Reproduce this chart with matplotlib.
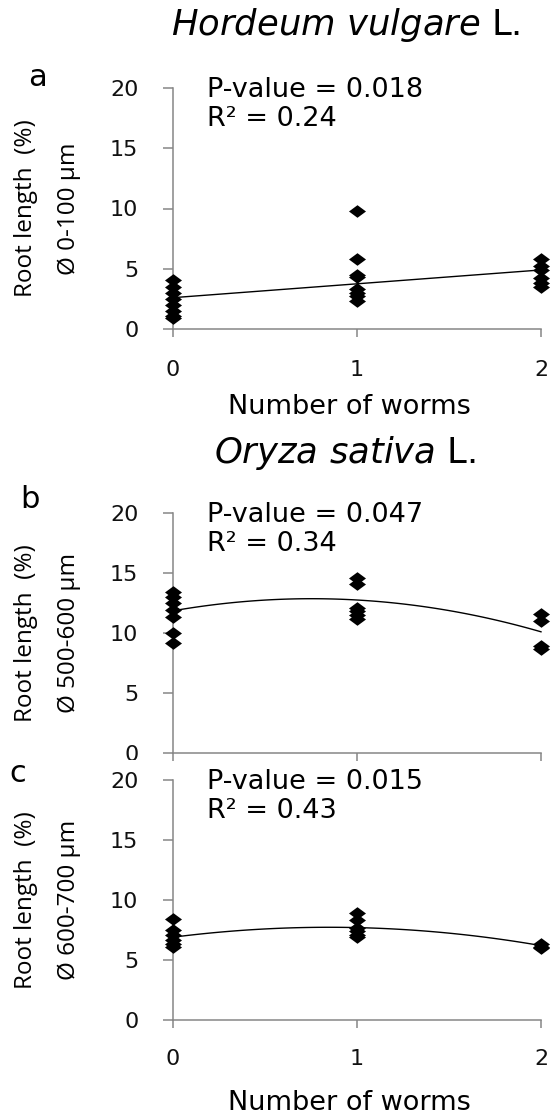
import numpy as np
import matplotlib
matplotlib.use("Agg")
import matplotlib.pyplot as plt
from matplotlib.path import Path
from matplotlib.patches import Rectangle

# ---------------- data ----------------
x_a0 = [4.1, 3.5, 3.0, 2.5, 2.0, 1.5, 1.1, 0.9]
x_a1 = [9.8, 5.8, 4.5, 4.3, 3.3, 3.0, 2.7, 2.3]
x_a2 = [5.8, 5.2, 4.9, 4.2, 3.8, 3.5]

x_b0 = [13.4, 13.0, 12.5, 11.9, 11.3, 10.0, 9.2]
x_b1 = [14.6, 14.1, 12.1, 11.8, 11.5, 11.2]
x_b2 = [11.6, 11.0, 8.9, 8.7]

x_c0 = [8.4, 7.5, 7.1, 6.7, 6.3, 6.1]
x_c1 = [8.9, 8.3, 7.7, 7.4, 7.1, 6.9]
x_c2 = [6.3, 6.1, 6.0]

# trend-line coefficients (highest power first)
trend_a = [1.15, 2.6]
trend_b = [-1.775, 2.675, 11.85]
trend_c = [-1.15, 1.95, 6.9]

worms = [0, 1, 2]
yticks = [0, 5, 10, 15, 20]
xticks = [0, 1, 2]

stats_a = ("P-value = 0.018", "R\u00b2 = 0.24")
stats_b = ("P-value = 0.047", "R\u00b2 = 0.34")
stats_c = ("P-value = 0.015", "R\u00b2 = 0.43")

ylab_a = ("Root length  (%)", "\u00d8 0-100 \u00b5m")
ylab_b = ("Root length  (%)", "\u00d8 500-600 \u00b5m")
ylab_c = ("Root length  (%)", "\u00d8 600-700 \u00b5m")

title_a = r"$\it{Hordeum\ vulgare}$ L."
title_b = r"$\it{Oryza\ sativa}$ L."
xlabel = "Number of worms"

# ---------------- style ----------------
plt.rcParams["mathtext.fontset"] = "dejavusans"
W, H = 551, 1119
fig = plt.figure(figsize=(W / 100, H / 100), dpi=100)

CAL = ["Open Sans", "DejaVu Sans"]
ARI = ["DejaVu Sans"]
GREY = "#868686"

diamond = Path([(-1.35, 0), (0, 1), (1.35, 0), (0, -1), (-1.35, 0)],
               [Path.MOVETO, Path.LINETO, Path.LINETO, Path.LINETO, Path.CLOSEPOLY])


def px_axes(top_px, bottom_px):
    left = 173 / W
    width = (541 - 173) / W
    return fig.add_axes([left, 1 - bottom_px / H, width, (bottom_px - top_px) / H])


def style(ax, show_xlabels, xpad):
    ax.set_xlim(0, 2)
    ax.set_ylim(0, 20)
    ax.set_yticks(yticks)
    ax.set_xticks(xticks)
    for s in ("top", "right"):
        ax.spines[s].set_visible(False)
    for s in ("left", "bottom"):
        ax.spines[s].set_color(GREY)
        ax.spines[s].set_linewidth(1.1)
    ax.tick_params(axis="y", direction="out", length=7, width=1.1, color=GREY,
                   pad=18, labelsize=16)
    ax.tick_params(axis="x", direction="out", length=6, width=1.1, color=GREY,
                   pad=xpad, labelsize=16)
    for lab in ax.get_yticklabels() + ax.get_xticklabels():
        lab.set_family(ARI)
        lab.set_color("#111111")
    if not show_xlabels:
        ax.set_xticklabels([])
    ax.patch.set_alpha(0)


def draw(ax, groups, coef, stats, ylab, letter, letter_xy):
    for xv, ys in zip(worms, groups):
        ax.scatter([xv] * len(ys), ys, marker=diamond, s=150, color="black",
                   linewidths=0, clip_on=False, zorder=3)
    xs = np.linspace(0, 2, 100)
    ax.plot(xs, np.polyval(coef, xs), color="black", lw=1.0, zorder=2, clip_on=False)
    ax.text(0.185, 19.8, stats[0], family=ARI, fontsize=19.5, va="center", ha="left")
    ax.text(0.185, 17.4, stats[1], family=ARI, fontsize=19.5, va="center", ha="left")
    pos = ax.get_position()
    yc = (pos.y0 + pos.y1) / 2
    fig.text(26 / W, yc, ylab[0], rotation=90, ha="center", va="center",
             family=CAL, fontsize=17.5)
    fig.text(69 / W, yc, ylab[1], rotation=90, ha="center", va="center",
             family=CAL, fontsize=17.5)
    fig.text(letter_xy[0] / W, 1 - letter_xy[1] / H, letter, ha="center", va="center",
             family=ARI, fontsize=22)


def put_xlabel(ax, top_px, bottom_px, center_px):
    ax.set_xlabel(xlabel, family=ARI, fontsize=19.5)
    ax.xaxis.label.set_va("center")
    ax.xaxis.set_label_coords((349 - 173) / (541 - 173),
                              (bottom_px - center_px) / (bottom_px - top_px))


ax_a = px_axes(88, 329)
style(ax_a, True, 16)
draw(ax_a, [x_a0, x_a1, x_a2], trend_a, stats_a, ylab_a, "a", (37, 77))
put_xlabel(ax_a, 88, 329, 407)

ax_b = px_axes(513, 753)
style(ax_b, False, 16)
draw(ax_b, [x_b0, x_b1, x_b2], trend_b, stats_b, ylab_b, "b", (30, 500))

ax_c = px_axes(780, 1020)
style(ax_c, True, 15)
draw(ax_c, [x_c0, x_c1, x_c2], trend_c, stats_c, ylab_c, "c", (18, 774))
put_xlabel(ax_c, 780, 1020, 1103)

fig.text(346 / W, 1 - 25 / H, title_a, ha="center", va="center", family=ARI, fontsize=25.5)
fig.text(345 / W, 1 - 453 / H, title_b, ha="center", va="center", family=ARI, fontsize=25.5)

# panel c overlaps the lower part of panel b's "0" label, as in the source figure
fig.patches.append(Rectangle((95 / W, 1 - 770 / H), 60 / W, 10 / H,
                             transform=fig.transFigure, facecolor="white",
                             edgecolor="none", zorder=1))

fig.savefig("out.png", dpi=100, facecolor="white")
